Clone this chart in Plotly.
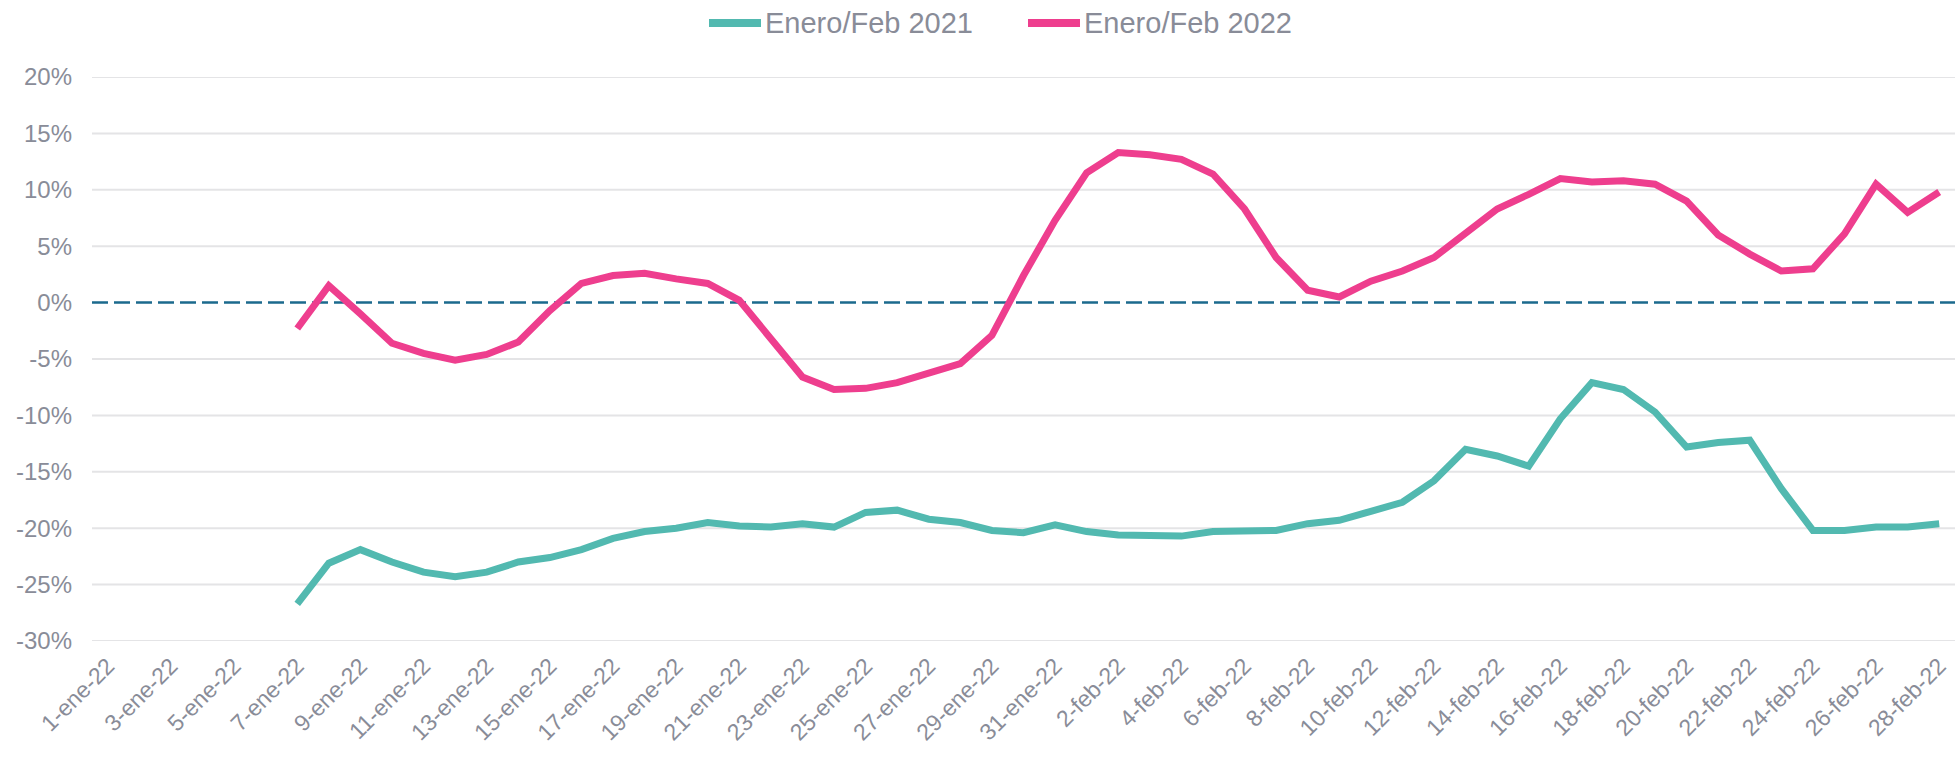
import plotly.graph_objects as go

months = ["ene"] * 31 + ["feb"] * 28
days = list(range(1, 32)) + list(range(1, 29))
dates = [f"{d}-{m}-22" for d, m in zip(days, months)]

serie_2021 = [None] * 6 + [
    -26.7, -23.1, -21.9, -23.0, -23.9, -24.3, -23.9, -23.0, -22.6, -21.9,
    -20.9, -20.3, -20.0, -19.5, -19.8, -19.9, -19.6, -19.9, -18.6, -18.4,
    -19.2, -19.5, -20.2, -20.4, -19.7, -20.3, -20.6, -20.7, -20.7, -20.3,
    -20.2, -20.2, -19.6, -19.3, -18.5, -17.7, -15.8, -13.0, -13.6, -14.5,
    -10.3, -7.1, -7.7, -9.7, -12.8, -12.4, -12.2, -16.5, -20.2, -20.2,
    -19.9, -19.9, -19.6,
]
serie_2022 = [None] * 6 + [
    -2.3, 1.5, -1.0, -3.6, -4.5, -5.1, -4.6, -3.5, -0.7, 1.7,
    2.4, 2.6, 2.1, 1.7, 0.2, -3.1, -6.6, -7.7, -7.6, -7.1,
    -6.3, -5.4, -2.9, 2.4, 7.3, 11.5, 13.3, 13.1, 12.7, 11.4,
    8.3, 4.0, 1.1, 0.5, 1.9, 2.8, 4.0, 6.2, 8.3, 9.6,
    11.0, 10.7, 10.8, 10.5, 9.0, 6.0, 4.3, 2.8, 3.0, 6.1,
    10.5, 8.0, 9.8,
]
series_names = ["Enero/Feb 2021", "Enero/Feb 2022"]
series_colors = ["#52B9B0", "#EE3E8E"]
y_ticks = [-30, -25, -20, -15, -10, -5, 0, 5, 10, 15, 20]

TEXT = "#898C98"
GRID = "#E4E4E6"
FONT = "Liberation Sans, Arial, sans-serif"

W, H = 1957, 757
ML, MR, MT, MB = 92, 2, 77, 116
PW, PH = W - ML - MR, H - MT - MB


def px_x(p):
    return (p - ML) / PW


def px_y(p):
    return (H - MB - p) / PH


fig = go.Figure()
for name, col, vals in zip(series_names, series_colors, [serie_2021, serie_2022]):
    fig.add_trace(go.Scatter(
        x=dates, y=vals, mode="lines", name=name, showlegend=False,
        line=dict(color=col, width=7),
    ))

# horizontal gridlines (drawn as shapes so the dashed zero line can sit on top)
for v in y_ticks:
    if v == 0:
        continue
    fig.add_shape(type="line", xref="paper", x0=0, x1=1, yref="y", y0=v, y1=v,
                  line=dict(color=GRID, width=2), layer="below")
fig.add_shape(type="line", xref="paper", x0=0, x1=1, yref="y", y0=0, y1=0,
              line=dict(color="#1B6A8D", width=2.5, dash="16px,6px"), layer="below")

# legend drawn at top center
leg_starts = [705, 1024]
leg_y = 23
for name, col, start in zip(series_names, series_colors, leg_starts):
    fig.add_shape(type="line", xref="paper", yref="paper",
                  x0=px_x(start + 4), x1=px_x(start + 56), y0=px_y(leg_y), y1=px_y(leg_y),
                  line=dict(color=col, width=8))
    fig.add_annotation(xref="paper", yref="paper", x=px_x(start + 58), y=px_y(leg_y),
                       text=name, showarrow=False, xanchor="left", yanchor="middle",
                       font=dict(size=29, color=TEXT, family=FONT))

fig.update_layout(
    width=W, height=H,
    margin=dict(l=ML, r=MR, t=MT, b=MB, autoexpand=False),
    paper_bgcolor="white", plot_bgcolor="white",
    font=dict(family=FONT, color=TEXT, size=23),
    showlegend=False,
    xaxis=dict(type="category", categoryorder="array", categoryarray=dates,
               range=[-0.5, len(dates) - 0.5], automargin=False,
               tickmode="array", tickvals=dates[::2], ticktext=dates[::2],
               tickangle=-45, showgrid=False, zeroline=False, showline=False,
               ticks="", ticklabelstandoff=6, tickfont=dict(size=23, color=TEXT)),
    yaxis=dict(range=[-30, 20], tickmode="array", tickvals=y_ticks, automargin=False,
               ticktext=[f"{v}%" for v in y_ticks], ticklabelstandoff=19,
               showgrid=False, zeroline=False, showline=False, ticks="",
               tickfont=dict(size=24, color=TEXT)),
)

fig.write_html("out.html", config={"displayModeBar": False},
               post_script="document.body.style.margin='0px';document.body.style.overflow='hidden';")
